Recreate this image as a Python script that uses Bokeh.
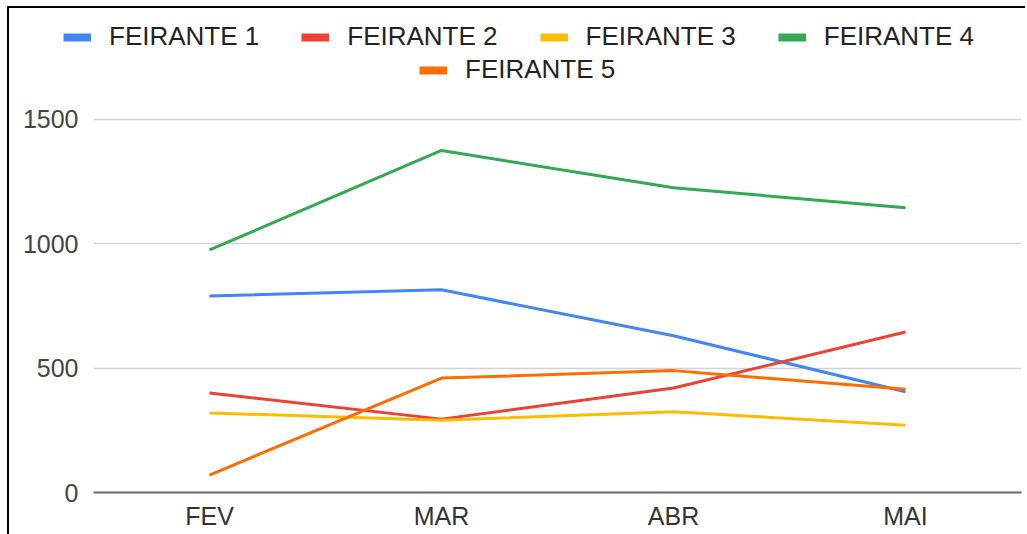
from bokeh.plotting import figure
from bokeh.models import Legend, LegendItem, FixedTicker, ColumnDataSource
from bokeh.embed import file_html
from bokeh.resources import INLINE

months = ["FEV", "MAR", "ABR", "MAI"]
series_names = ["FEIRANTE 1", "FEIRANTE 2", "FEIRANTE 3", "FEIRANTE 4", "FEIRANTE 5"]
feirante1 = [790, 815, 630, 405]
feirante2 = [400, 295, 420, 645]
feirante3 = [320, 290, 325, 270]
feirante4 = [975, 1375, 1225, 1145]
feirante5 = [70, 460, 490, 415]
y_ticks = [0, 500, 1000, 1500]

colors = ["#4285F4", "#EA4335", "#FBBC04", "#34A853", "#FF6D01"]
values = [feirante1, feirante2, feirante3, feirante4, feirante5]

# ---- legend strip (its own figure so nothing is clipped) ----
lf = figure(width=1018, height=94, x_range=(0, 1), y_range=(0, 1),
            x_axis_type=None, y_axis_type=None, output_backend="svg",
            toolbar_location=None, min_border=0)
lf.min_border_left = 0
lf.min_border_right = 0
lf.min_border_top = 0
lf.min_border_bottom = 0
lf.outline_line_color = None
lf.xgrid.visible = False
lf.ygrid.visible = False
lf.margin = (6, 0, 0, 7)
lf.styles = {"border-left": "2px solid black", "border-top": "2px solid black"}

# legend swatches: renderers whose single point lies outside the visible range
dummies = [lf.line(x=[-5, -5], y=[-5, -5], line_color=c, line_width=8) for c in colors]
common = dict(border_line_color=None, background_fill_alpha=0, padding=0, margin=0,
              orientation="horizontal", label_text_font="Liberation Sans",
              label_text_font_size="26px", label_text_color="#222222",
              glyph_width=28, glyph_height=30, label_standoff=18, spacing=42)
leg1 = Legend(items=[LegendItem(label=n, renderers=[r]) for n, r in zip(series_names[:4], dummies[:4])],
              location=(54, 50), **common)
leg2 = Legend(items=[LegendItem(label=series_names[4], renderers=[dummies[4]])],
              location=(410, 17), **common)
lf.add_layout(leg1, "center")
lf.add_layout(leg2, "center")

# ---- main chart ----
p = figure(width=1018, height=434, x_range=months, y_range=(0, 1576),
           output_backend="svg", toolbar_location=None,
           min_border_left=84, min_border_right=6, min_border_top=0, min_border_bottom=42)
p.outline_line_color = None
p.margin = (0, 0, 0, 7)
p.styles = {"border-left": "2px solid black"}

for name, vals, c in zip(series_names, values, colors):
    src = ColumnDataSource(dict(x=months, y=vals))
    p.line("x", "y", source=src, line_color=c, line_width=3, line_join="round")

p.xgrid.grid_line_color = None
p.ygrid.grid_line_color = "#d3d3d3"
p.ygrid.grid_line_width = 1.5
p.yaxis.ticker = FixedTicker(ticks=y_ticks)
p.yaxis.axis_line_color = None
p.yaxis.major_tick_line_color = None
p.yaxis.major_tick_out = 0
p.yaxis.minor_tick_line_color = None
p.yaxis.major_label_standoff = 15
p.yaxis.major_label_text_font = "Liberation Sans"
p.yaxis.major_label_text_font_size = "25px"
p.yaxis.major_label_text_color = "#444444"

p.xaxis.axis_line_color = "#666666"
p.xaxis.axis_line_width = 2
p.xaxis.major_tick_line_color = None
p.xaxis.major_tick_out = 0
p.xaxis.minor_tick_line_color = None
p.xaxis.major_label_standoff = 9
p.xaxis.major_label_text_font = "Liberation Sans"
p.xaxis.major_label_text_font_size = "25px"
p.xaxis.major_label_text_color = "#333333"

open("out.html", "w").write(file_html([lf, p], INLINE))
